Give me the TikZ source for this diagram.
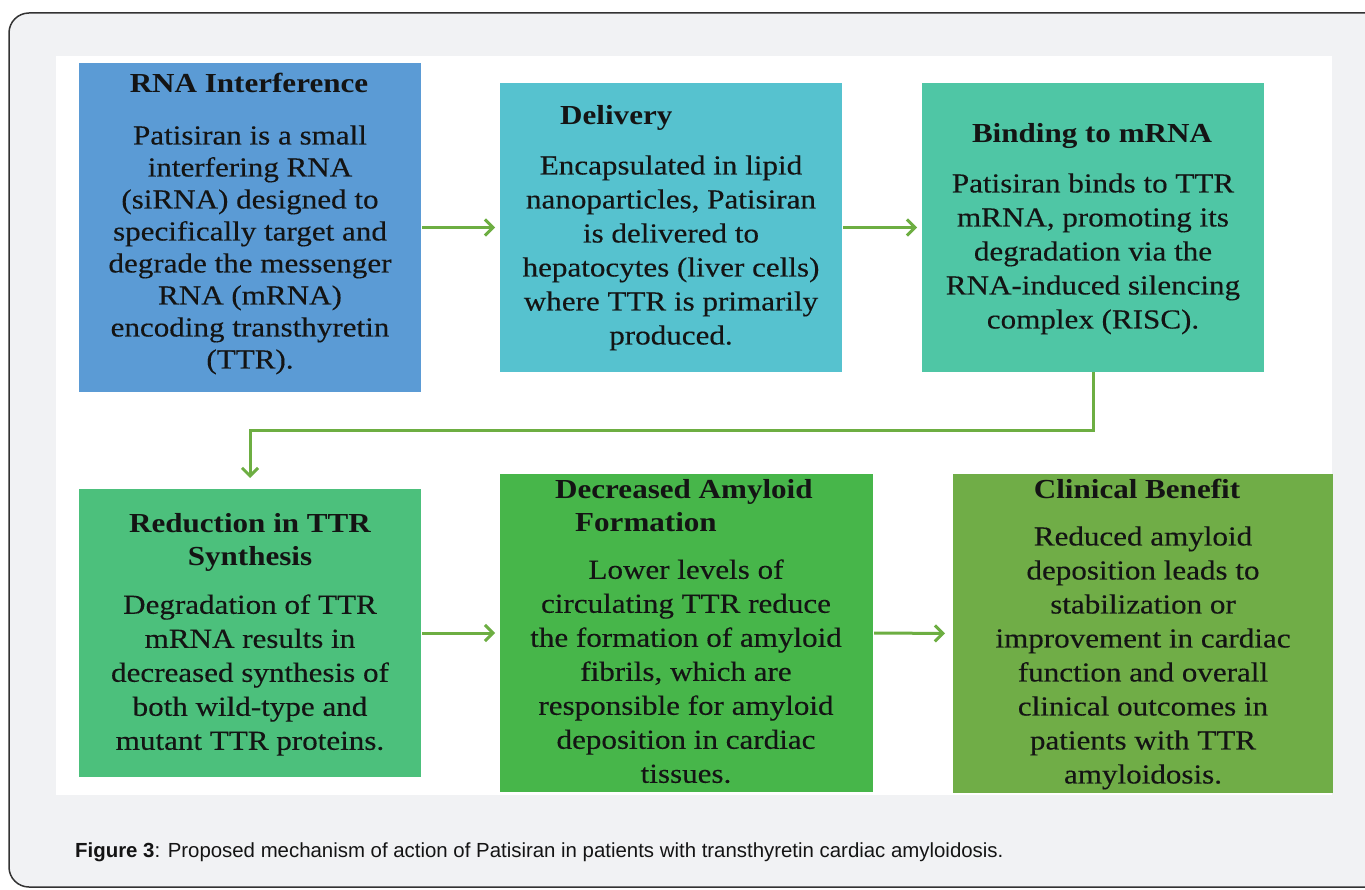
\documentclass[tikz,border=0pt]{standalone}
\usepackage{fontspec}
\setmainfont{Liberation Serif}[FakeStretch=1.13, UprightFeatures={FakeBold=0.3}]
\newfontfamily\capfont{Liberation Sans}
\usetikzlibrary{arrows.meta}
\definecolor{pagegray}{HTML}{F1F2F4}
\definecolor{framec}{HTML}{333333}
\definecolor{cA}{HTML}{5B9BD5}
\definecolor{cB}{HTML}{56C2CF}
\definecolor{cC}{HTML}{4FC6A5}
\definecolor{cD}{HTML}{4CC07C}
\definecolor{cE}{HTML}{47B64A}
\definecolor{cF}{HTML}{70AD47}
\definecolor{arrg}{HTML}{6DAE42}
\definecolor{ink}{HTML}{141414}
\tikzset{
  box/.style={anchor=north west, inner sep=0pt, outer sep=0pt, draw=none},
  ttl/.style={inner sep=0pt, text=ink, font=\fontsize{27.5}{33}\selectfont\bfseries},
  body/.style={inner sep=0pt, text=ink, align=center, anchor=north, font=\fontsize{27.5}{34}\selectfont},
  arr/.style={draw=arrg, line width=3pt, -{Straight Barb[length=8pt,width=16pt]}}
}
\begin{document}
\begin{tikzpicture}[x=1pt,y=-1pt]
\useasboundingbox (0,0) rectangle (1365,890);
\clip (0,0) rectangle (1365,890);
\fill[white] (0,0) rectangle (1365,890);
\draw[draw=framec, line width=1.5pt, fill=pagegray, rounded corners=20pt] (9,13) rectangle (1390,887);
\fill[white] (56,56) rectangle (1332,795);

% boxes
\node[box, fill=cA, minimum width=342pt, minimum height=329pt] (b1) at (79,63) {};
\node[box, fill=cB, minimum width=342pt, minimum height=289pt] (b2) at (500,83) {};
\node[box, fill=cC, minimum width=342pt, minimum height=289pt] (b3) at (922,83) {};
\node[box, fill=cD, minimum width=342pt, minimum height=288pt] (b4) at (79,489) {};
\node[box, fill=cE, minimum width=373pt, minimum height=318pt] (b5) at (500,474) {};
\node[box, fill=cF, minimum width=380pt, minimum height=319pt] (b6) at (953,474) {};

% titles
\node[ttl, anchor=base] (h1) at (249,93) {RNA Interference};
\node[ttl, anchor=base west] (h2) at (560,125) {Delivery};
\node[ttl, anchor=base] (h3) at (1092,143) {Binding to mRNA};
\node[ttl, anchor=north, align=center] (h4) at (250,513.2) {Reduction in TTR\\Synthesis};
\node[ttl, anchor=north west, align=left] (h5) at (555,479.2) {Decreased Amyloid\\\hspace*{20pt}Formation};
\node[ttl, anchor=base] (h6) at (1137,498) {Clinical Benefit};

% bodies
\node[body, font=\fontsize{27.5}{32}\selectfont] (t1) at (250,125.2) {Patisiran is a small\\interfering RNA\\(siRNA) designed to\\specifically target and\\degrade the messenger\\RNA (mRNA)\\encoding transthyretin\\(TTR).};
\node[body] (t2) at (671,155.2) {Encapsulated in lipid\\nanoparticles, Patisiran\\is delivered to\\hepatocytes (liver cells)\\where TTR is primarily\\produced.};
\node[body] (t3) at (1093,173.2) {Patisiran binds to TTR\\mRNA, promoting its\\degradation via the\\RNA-induced silencing\\complex (RISC).};
\node[body] (t4) at (250,594.2) {Degradation of TTR\\mRNA results in\\decreased synthesis of\\both wild-type and\\mutant TTR proteins.};
\node[body] (t5) at (686,559.2) {Lower levels of\\circulating TTR reduce\\the formation of amyloid\\fibrils, which are\\responsible for amyloid\\deposition in cardiac\\tissues.};
\node[body] (t6) at (1143,526.2) {Reduced amyloid\\deposition leads to\\stabilization or\\improvement in cardiac\\function and overall\\clinical outcomes in\\patients with TTR\\amyloidosis.};

% connectors
\draw[arr, shorten <=1pt, shorten >=5pt] (b1.east) -- (b2.west);
\draw[arr, shorten <=1pt, shorten >=5pt] (b2.east) -- (b3.west);
\coordinate (e1) at (1093,430);
\coordinate (e2) at (250,430);
\draw[arr, shorten >=11pt] (b3.south) -- (e1) -- (e2) -- (b4.north);
\draw[arr, shorten <=1pt, shorten >=5pt] (b4.east) -- (b5.west);
\draw[arr, shorten <=1pt, shorten >=8pt] (b5.east) -- (b6.west);

% caption
\node[anchor=base west, inner sep=0pt, text=ink, font=\capfont\fontsize{20.4}{24}\selectfont] (cap) at (75,857) {\textbf{Figure 3}: Proposed mechanism of action of Patisiran in patients with transthyretin cardiac amyloidosis.};
\end{tikzpicture}
\end{document}
